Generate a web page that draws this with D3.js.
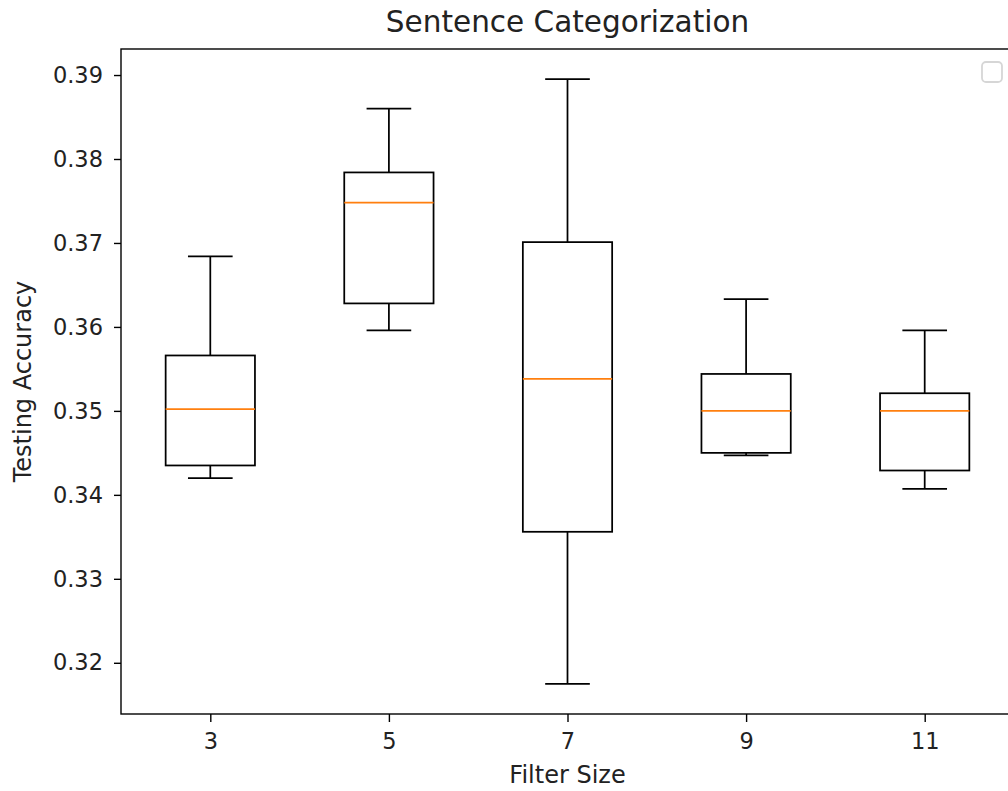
<!DOCTYPE html>
<html>
<head>
<meta charset="utf-8">
<script src="https://cdn.jsdelivr.net/npm/d3@7"></script>
<style>
  html, body { margin: 0; padding: 0; background: #fff; }
  svg { display: block; font-family: "DejaVu Sans", sans-serif; }
</style>
</head>
<body>
<svg id="chart" width="1008" height="791"></svg>
<script>
// ---- data ----
const categories   = ["3", "5", "7", "9", "11"];
const whiskerLow   = [0.3420, 0.3596, 0.3175, 0.3447, 0.3407];
const quartile1    = [0.3435, 0.3628, 0.3356, 0.3450, 0.3429];
const medians      = [0.3502, 0.3748, 0.3538, 0.3500, 0.3500];
const quartile3    = [0.3566, 0.3784, 0.3701, 0.3544, 0.3521];
const whiskerHigh  = [0.3684, 0.3860, 0.3895, 0.3633, 0.3596];
const yTicks       = [0.32, 0.33, 0.34, 0.35, 0.36, 0.37, 0.38, 0.39];

const title  = "Sentence Categorization";
const xLabel = "Filter Size";
const yLabel = "Testing Accuracy";

// ---- layout ----
(function () {
const svg = d3.select("#chart");
const mLeft = 121, mRight = 1014, mTop = 49, mBottom = 714;

const boxes = categories.map((c, i) => ({
  cat: c, pos: i + 1,
  lo: whiskerLow[i], q1: quartile1[i], med: medians[i], q3: quartile3[i], hi: whiskerHigh[i]
}));

const x = d3.scaleLinear().domain([0.5, categories.length + 0.5]).range([mLeft, mRight]);
const yMin = d3.min(whiskerLow), yMax = d3.max(whiskerHigh);
const pad = (yMax - yMin) * 0.05;
const y = d3.scaleLinear().domain([yMin - pad, yMax + pad]).range([mBottom, mTop]);

const lw = 1.75;
const boxW = 0.5, capW = 0.25;

const g = svg.append("g");

boxes.forEach(b => {
  const cx = x(b.pos);
  const gb = g.append("g").attr("fill", "none").attr("stroke", "#000").attr("stroke-width", lw);
  gb.append("line").attr("x1", cx).attr("x2", cx).attr("y1", y(b.q1)).attr("y2", y(b.lo));
  gb.append("line").attr("x1", cx).attr("x2", cx).attr("y1", y(b.q3)).attr("y2", y(b.hi));
  gb.append("line").attr("x1", x(b.pos - capW / 2)).attr("x2", x(b.pos + capW / 2)).attr("y1", y(b.lo)).attr("y2", y(b.lo));
  gb.append("line").attr("x1", x(b.pos - capW / 2)).attr("x2", x(b.pos + capW / 2)).attr("y1", y(b.hi)).attr("y2", y(b.hi));
  gb.append("rect")
    .attr("x", x(b.pos - boxW / 2)).attr("width", x(b.pos + boxW / 2) - x(b.pos - boxW / 2))
    .attr("y", y(b.q3)).attr("height", y(b.q1) - y(b.q3));
  g.append("line").attr("x1", x(b.pos - boxW / 2)).attr("x2", x(b.pos + boxW / 2))
    .attr("y1", y(b.med)).attr("y2", y(b.med))
    .attr("stroke", "#ff7f0e").attr("stroke-width", lw);
});

const xAxis = d3.axisBottom(x).tickValues(boxes.map(b => b.pos))
  .tickFormat((d, i) => categories[i]).tickSize(8).tickPadding(11);
const yAxis = d3.axisLeft(y).tickValues(yTicks).tickFormat(d3.format(".2f")).tickSize(7).tickPadding(11);

const gx = svg.append("g").attr("transform", `translate(0,${mBottom})`).call(xAxis);
const gy = svg.append("g").attr("transform", `translate(${mLeft},0)`).call(yAxis);
[gx, gy].forEach(a => {
  a.select(".domain").remove();
  a.selectAll(".tick line").attr("stroke", "#000").attr("stroke-width", 1.4);
  a.selectAll(".tick text").attr("fill", "#222").style("font-size", "22.5px").style("font-family", "DejaVu Sans");
});

svg.append("rect").attr("x", mLeft).attr("y", mTop).attr("width", mRight - mLeft).attr("height", mBottom - mTop)
  .attr("fill", "none").attr("stroke", "#000").attr("stroke-width", 1.4);

svg.append("text").attr("x", (mLeft + mRight) / 2).attr("y", 32).attr("text-anchor", "middle")
  .style("font-size", "29.5px").attr("fill", "#222").text(title);
svg.append("text").attr("x", (mLeft + mRight) / 2).attr("y", 783).attr("text-anchor", "middle")
  .style("font-size", "24px").attr("fill", "#222").text(xLabel);
svg.append("text").attr("transform", `translate(31,${(mTop + mBottom) / 2}) rotate(-90)`)
  .attr("text-anchor", "middle").style("font-size", "24px").attr("fill", "#222").text(yLabel);

svg.append("rect").attr("x", 982).attr("y", 62).attr("width", 20).attr("height", 20).attr("rx", 4)
  .attr("fill", "#fff").attr("stroke", "#d6d6d6").attr("stroke-width", 1.8);
})();
</script>
</body>
</html>
